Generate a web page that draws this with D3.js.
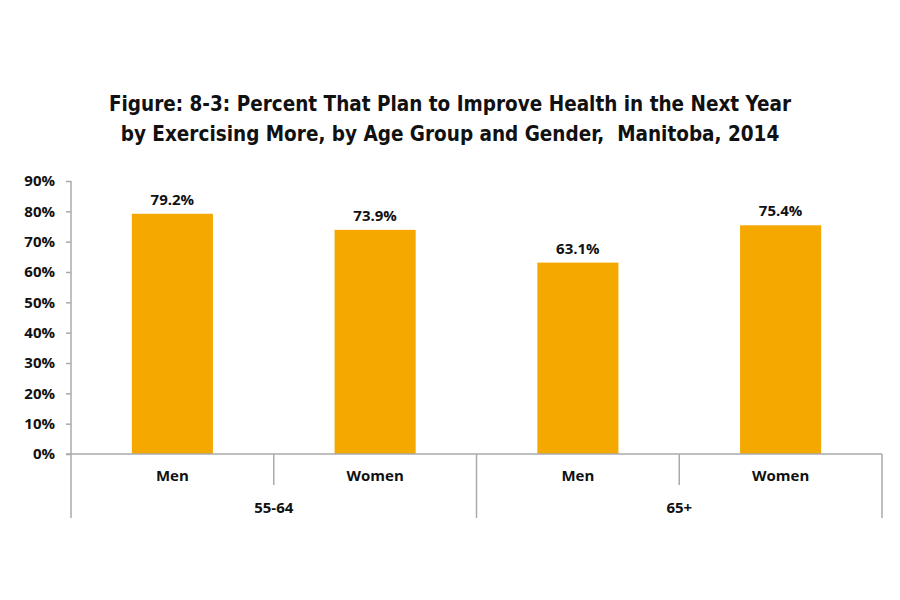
<!DOCTYPE html>
<html>
<head>
<meta charset="utf-8">
<script src="https://cdn.jsdelivr.net/npm/d3@7"></script>
<style>
  body { margin: 0; background: #fff; }
  text { font-family: "Open Sans", sans-serif; font-weight: 700; fill: #111; }
</style>
</head>
<body>
<div id="chart"></div>
<script>
// chart data
const ageGroups = ["55-64", "65+"];
const genders = ["Men", "Women"];
const categories = ["55-64|Men", "55-64|Women", "65+|Men", "65+|Women"];
const percentValues = [79.2, 73.9, 63.1, 75.4];
const yTicks = [0, 10, 20, 30, 40, 50, 60, 70, 80, 90];
const titleLines = [
    "Figure: 8-3: Percent That Plan to Improve Health in the Next Year",
    "by Exercising More, by Age Group and Gender,  Manitoba, 2014"
];

const width = 900;
const height = 600;
const margin = { top: 181, right: 18, bottom: 146, left: 71 };
const innerW = width - margin.left - margin.right;
const innerH = height - margin.top - margin.bottom;

const barColor = "#f5a800";
const axisColor = "#aaaaaa";

const svg = d3.select("#chart")
    .append("svg")
    .attr("width", width)
    .attr("height", height);

// title
svg.append("g")
    .selectAll("text")
    .data(titleLines)
    .enter()
    .append("text")
    .attr("x", width / 2)
    .attr("y", (d, i) => 111 + i * 30)
    .attr("text-anchor", "middle")
    .style("font-family", "'DejaVu Sans Condensed', 'Open Sans', sans-serif")
    .style("font-size", "20.5px")
    .style("white-space", "pre")
    .text(d => d);

const g = svg.append("g")
    .attr("transform", `translate(${margin.left},${margin.top})`);

const xScale = d3.scaleBand()
    .domain(categories)
    .range([0, innerW])
    .paddingInner(0.6)
    .paddingOuter(0.3);

const yScale = d3.scaleLinear()
    .domain([0, 90])
    .range([innerH, 0]);

const data = categories.map((c, i) => ({ key: c, value: percentValues[i] }));

// y axis
const yAxis = g.append("g")
    .call(d3.axisLeft(yScale).tickValues(yTicks).tickFormat(d => d + "%").tickSize(5).tickPadding(11));
yAxis.selectAll("text").style("font-size", "15px");
yAxis.select(".domain").attr("d", `M0,0V${innerH}`);

// bars
g.selectAll(".bar")
    .data(data)
    .enter()
    .append("rect")
    .attr("class", "bar")
    .attr("x", d => xScale(d.key))
    .attr("y", d => yScale(d.value))
    .attr("width", xScale.bandwidth())
    .attr("height", d => innerH - yScale(d.value))
    .attr("fill", barColor);

// value labels
g.selectAll(".val")
    .data(data)
    .enter()
    .append("text")
    .attr("class", "val")
    .attr("x", d => xScale(d.key) + xScale.bandwidth() / 2)
    .attr("y", d => yScale(d.value) - 9)
    .attr("text-anchor", "middle")
    .style("font-size", "15px")
    .text(d => d.value.toFixed(1) + "%");

// x axis (baseline + multi-level category separators)
const step = xScale.step();
const bandStart = d => xScale(d) - xScale.paddingOuter() * step;

g.append("line")
    .attr("x1", -5).attr("x2", innerW)
    .attr("y1", innerH).attr("y2", innerH)
    .attr("stroke", axisColor).attr("stroke-width", 1.5);

// separators between genders inside a group (short)
const innerSeps = categories.filter(c => c.endsWith("|Women"));
g.selectAll(".sep-short")
    .data(innerSeps)
    .enter()
    .append("line")
    .attr("x1", d => bandStart(d)).attr("x2", d => bandStart(d))
    .attr("y1", innerH).attr("y2", innerH + 31)
    .attr("stroke", axisColor).attr("stroke-width", 1.5);

// separators between age groups (long)
const groupEdges = [0].concat(ageGroups.map(a => bandStart(a + "|Women") + step * 1));
g.selectAll(".sep-long")
    .data(groupEdges)
    .enter()
    .append("line")
    .attr("x1", d => d).attr("x2", d => d)
    .attr("y1", innerH).attr("y2", innerH + 64)
    .attr("stroke", axisColor).attr("stroke-width", 1.5);

// gender labels
g.selectAll(".cat")
    .data(categories)
    .enter()
    .append("text")
    .attr("x", d => xScale(d) + xScale.bandwidth() / 2)
    .attr("y", innerH + 27)
    .attr("text-anchor", "middle")
    .style("font-size", "15px")
    .text(d => d.split("|")[1]);

// age group labels
g.selectAll(".grp")
    .data(ageGroups)
    .enter()
    .append("text")
    .attr("x", a => bandStart(a + "|Women"))
    .attr("y", innerH + 59)
    .attr("text-anchor", "middle")
    .style("font-size", "15px")
    .text(a => a);

g.selectAll(".domain, .tick line").attr("stroke", axisColor).attr("stroke-width", 1.5);
</script>
</body>
</html>
